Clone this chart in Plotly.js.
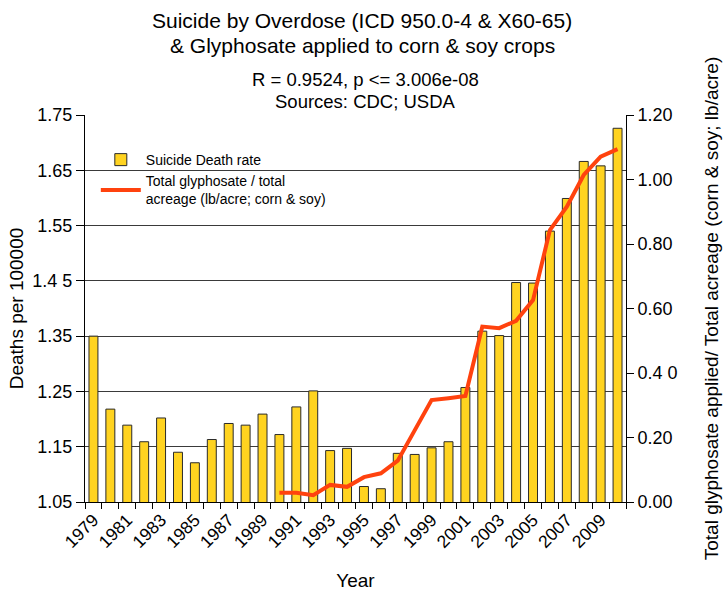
<!DOCTYPE html>
<html>
<head>
<meta charset="utf-8">
<script src="https://cdn.plot.ly/plotly-3.0.1.min.js"></script>
<style>html,body{margin:0;padding:0;background:#fff;}#chart{width:724px;height:594px;}</style>
</head>
<body>
<div id="chart"></div>
<script>
const years = ["1979","1980","1981","1982","1983","1984","1985","1986","1987","1988","1989","1990","1991","1992","1993","1994","1995","1996","1997","1998","1999","2000","2001","2002","2003","2004","2005","2006","2007","2008","2009","2010"];
const suicideRate = [1.350,1.218,1.189,1.159,1.202,1.140,1.121,1.163,1.192,1.189,1.209,1.172,1.222,1.251,1.143,1.147,1.078,1.074,1.138,1.136,1.148,1.159,1.257,1.359,1.351,1.447,1.446,1.540,1.599,1.666,1.658,1.726];
const glyphYears = ["1990","1991","1992","1993","1994","1995","1996","1997","1998","1999","2000","2001","2002","2003","2004","2005","2006","2007","2008","2009","2010"];
const glyphosate = [0.029,0.029,0.021,0.053,0.047,0.077,0.089,0.128,0.222,0.316,0.322,0.329,0.544,0.539,0.562,0.626,0.843,0.916,1.014,1.071,1.094];
const leftTickVals = [1.05,1.15,1.25,1.35,1.45,1.55,1.65,1.75];
const leftTickText = ["1.05","1.15","1.25","1.35","1.4 5","1.55","1.65","1.75"];
const rightTickVals = [0,0.2,0.4,0.6,0.8,1.0,1.2];
const rightTickText = ["0.00","0.20","0.4 0","0.60","0.80","1.00","1.20"];
const titleLines = ["Suicide by Overdose (ICD 950.0-4 & X60-65)", "& Glyphosate applied to corn & soy crops"];
const subtitleLines = ["R = 0.9524, p <= 3.006e-08", "Sources: CDC; USDA"];
const xTickText = years.map((y,i)=> i%2===0 ? y : "");

const FONT = "Liberation Sans, Arial, sans-serif";
const PLOT_TOP = 115, PLOT_H = 387;
function py(pix){ return (PLOT_TOP + PLOT_H - pix) / PLOT_H; }

const traces = [
  {
    type: "bar",
    name: "Suicide Death rate",
    x: years,
    y: suicideRate,
    marker: {color: "#FFD320", line: {color: "#2a2a2a", width: 1}},
    width: 0.53,
    yaxis: "y"
  },
  {
    type: "scatter",
    mode: "lines",
    name: "Total glyphosate / total<br>acreage (lb/acre; corn & soy)",
    x: glyphYears,
    y: glyphosate,
    line: {color: "#FF420E", width: 4},
    yaxis: "y2"
  }
];

const annotations = [];
const titleY = [20, 46];
titleLines.forEach((t,i)=>annotations.push({
  text: t, xref: "paper", yref: "paper",
  x: (362-85)/541, y: py(titleY[i]), xanchor: "center", yanchor: "middle",
  showarrow: false, font: {family: FONT, size: 21, color: "#000"}
}));
const subY = [80, 101];
subtitleLines.forEach((t,i)=>annotations.push({
  text: t, xref: "paper", yref: "paper",
  x: (365-85)/541, y: py(subY[i]), xanchor: "center", yanchor: "middle",
  showarrow: false, font: {family: FONT, size: 18.5, color: "#000"}
}));

const layout = {
  width: 724,
  height: 594,
  margin: {l: 85, r: 98, t: 115, b: 92},
  paper_bgcolor: "#ffffff",
  plot_bgcolor: "#ffffff",
  font: {family: FONT, color: "#000", size: 16},
  annotations: annotations,
  showlegend: true,
  legend: {
    x: 0.02, y: 0.925, xanchor: "left", yanchor: "top",
    bgcolor: "rgba(0,0,0,0)",
    font: {family: FONT, size: 14, color: "#000"},
    itemwidth: 40,
    tracegroupgap: 0
  },
  xaxis: {
    type: "category",
    tickmode: "array",
    tickvals: years,
    ticktext: xTickText,
    tickangle: -45,
    tickson: "boundaries",
    ticks: "outside",
    ticklen: 6,
    tickcolor: "#000",
    showline: true,
    linecolor: "#000",
    linewidth: 1,
    showgrid: false,
    tickfont: {family: FONT, size: 17.5, color: "#000"},
    title: {text: "Year", font: {family: FONT, size: 19, color: "#000"}, standoff: 22},
    range: [-0.5, 31.5]
  },
  yaxis: {
    range: [1.05, 1.75],
    tickmode: "array",
    tickvals: leftTickVals,
    ticktext: leftTickText,
    ticks: "outside",
    ticklen: 8,
    tickcolor: "#000",
    showline: true,
    linecolor: "#000",
    showgrid: true,
    gridcolor: "#3a3a3a",
    gridwidth: 1,
    zeroline: false,
    tickfont: {family: FONT, size: 18, color: "#000"},
    title: {text: "Deaths per 100000", font: {family: FONT, size: 19, color: "#000"}, standoff: 3}
  },
  yaxis2: {
    overlaying: "y",
    side: "right",
    range: [0, 1.2],
    tickmode: "array",
    tickvals: rightTickVals,
    ticktext: rightTickText,
    ticks: "outside",
    ticklen: 7,
    tickcolor: "#000",
    showline: true,
    linecolor: "#000",
    showgrid: false,
    zeroline: false,
    tickfont: {family: FONT, size: 18, color: "#000"},
    title: {text: "Total glyphosate applied/ Total acreage (corn & soy; lb/acre)", font: {family: FONT, size: 19, color: "#000"}, standoff: 28}
  }
};

Plotly.newPlot("chart", traces, layout, {displayModeBar: false, staticPlot: true});
</script>
</body>
</html>
